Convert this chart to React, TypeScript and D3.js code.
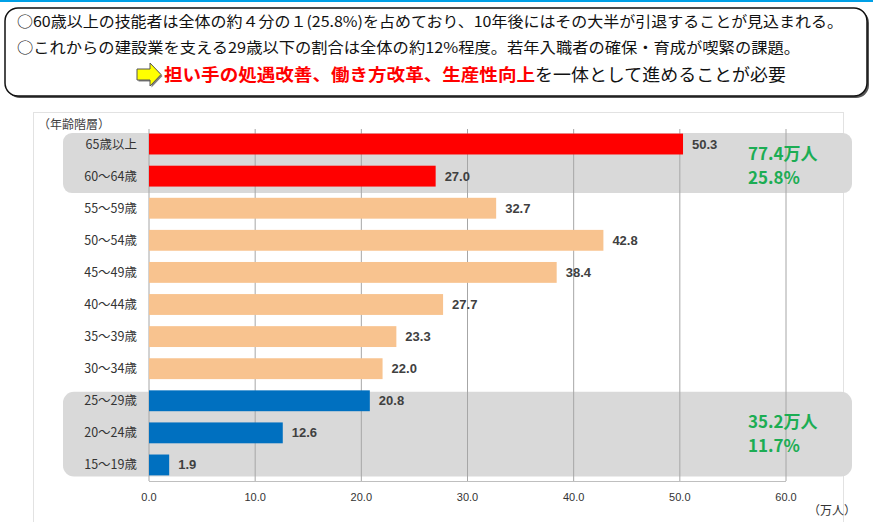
import React from 'react';
import * as d3 from 'd3';

const categories = ['65歳以上', '60～64歳', '55～59歳', '50～54歳', '45～49歳', '40～44歳', '35～39歳', '30～34歳', '25～29歳', '20～24歳', '15～19歳'];
const values = [50.3, 27.0, 32.7, 42.8, 38.4, 27.7, 23.3, 22.0, 20.8, 12.6, 1.9];
const groups = ['old', 'old', 'mid', 'mid', 'mid', 'mid', 'mid', 'mid', 'young', 'young', 'young'];
const ticks = [0, 10, 20, 30, 40, 50, 60];
const summaryOld = ['77.4万人', '25.8%'];
const summaryYoung = ['35.2万人', '11.7%'];

const colors: Record<string, string> = { old: '#ff0000', mid: '#f8c38f', young: '#0070c0' };
const jp = '"Noto Sans CJK JP", "Noto Sans", sans-serif';
const num = '"Liberation Sans", Arial, sans-serif';

const App = () => {
  const width = 873;
  const height = 522;

  const x = d3.scaleLinear().domain([0, 60]).range([149, 786]);
  const y = d3.scaleBand<string>().domain(categories).range([128, 481]).paddingInner(0.35).paddingOuter(0.175);
  const bw = y.bandwidth();

  // highlight boxes wrap the bands of each group
  const box = (from: string, to: string, padTop: number, padBottom: number) => {
    const top = (y(from) as number) - padTop;
    const bottom = (y(to) as number) + bw + padBottom;
    return { top, h: bottom - top };
  };
  const oldBox = box(categories[0], categories[1], 0.5, 6.5);
  const youngBox = box(categories[8], categories[10], -1.5, 1);

  return (
    <svg width={width} height={height} style={{ position: 'absolute', left: 0, top: 0, background: '#fff' }}>
      <rect x={0} y={0} width={width} height={2} fill="#00a0e6" />

      {/* message box */}
      <rect x={7} y={10} width={862} height={88} rx={13} fill="#555" />
      <rect x={5} y={8} width={862} height={88} rx={13} fill="#fff" stroke="#111" strokeWidth={1.5} />
      <text x={17} y={27} fontFamily={jp} fontSize={15} fill="#111" textLength={826} lengthAdjust="spacingAndGlyphs">
        ○60歳以上の技能者は全体の約４分の１(25.8%)を占めており、10年後にはその大半が引退することが見込まれる。
      </text>
      <text x={17} y={53} fontFamily={jp} fontSize={15} fill="#111" textLength={783} lengthAdjust="spacingAndGlyphs">
        ○これからの建設業を支える29歳以下の割合は全体の約12%程度。若年入職者の確保・育成が喫緊の課題。
      </text>
      <path d="M137,69 L150,69 L150,63 L161,74.5 L150,86 L150,80 L137,80 Z" fill="#808080" transform="translate(1.5,1.5)" />
      <path d="M137,69 L150,69 L150,63 L161,74.5 L150,86 L150,80 L137,80 Z" fill="#ffff00" stroke="#555" strokeWidth={1} />
      <text x={164} y={81} fontFamily={jp} fontSize={17}>
        <tspan fill="#ff0000" fontWeight="bold" textLength={371} lengthAdjust="spacingAndGlyphs">担い手の処遇改善、働き方改革、生産性向上</tspan>
        <tspan fill="#111" textLength={251} lengthAdjust="spacingAndGlyphs">を一体として進めることが必要</tspan>
      </text>

      {/* chart frame */}
      <rect x={33.5} y={112.5} width={810} height={420} fill="#fff" stroke="#e2e2e2" />
      <text x={38} y={129} fontFamily={jp} fontSize={12} fill="#404040">（年齢階層）</text>

      <rect x={63} y={oldBox.top} width={789} height={oldBox.h} rx={9} fill="#d9d9d9" />
      <rect x={63} y={youngBox.top} width={789} height={youngBox.h} rx={11} fill="#d9d9d9" />

      {/* grid */}
      {ticks.map(t => (
        <line key={t} x1={x(t)} x2={x(t)} y1={129} y2={481} stroke="#a6a6a6" strokeWidth={1} />
      ))}
      <line x1={x(0)} x2={x(60)} y1={481.5} y2={481.5} stroke="#bfbfbf" />

      {/* bars */}
      {categories.map((c, i) => (
        <g key={c}>
          <rect x={x(0)} y={y(c)} width={x(values[i]) - x(0)} height={bw} fill={colors[groups[i]]} />
          <text x={x(values[i]) + 9} y={(y(c) as number) + bw / 2 + 4.5} fontFamily={num} fontSize={13} fontWeight="bold" fill="#404040">
            {values[i].toFixed(1)}
          </text>
          <text x={137} y={(y(c) as number) + bw / 2 + 4.5} textAnchor="end" fontFamily={jp} fontSize={12.5} fill="#333">
            {c}
          </text>
        </g>
      ))}

      {/* tick labels */}
      {ticks.map(t => (
        <text key={t} x={x(t)} y={501} textAnchor="middle" fontFamily={num} fontSize={11} fill="#333">
          {t.toFixed(1)}
        </text>
      ))}
      <text x={808} y={515} fontFamily={jp} fontSize={12} fill="#333">（万人）</text>

      {/* summaries */}
      {summaryOld.map((s, i) => (
        <text key={s} x={748} y={160 + i * 24} fontFamily={jp} fontSize={17} fontWeight="bold" fill="#1cad54">{s}</text>
      ))}
      {summaryYoung.map((s, i) => (
        <text key={s} x={748} y={428 + i * 24} fontFamily={jp} fontSize={17} fontWeight="bold" fill="#1cad54">{s}</text>
      ))}
    </svg>
  );
};

export default App;
